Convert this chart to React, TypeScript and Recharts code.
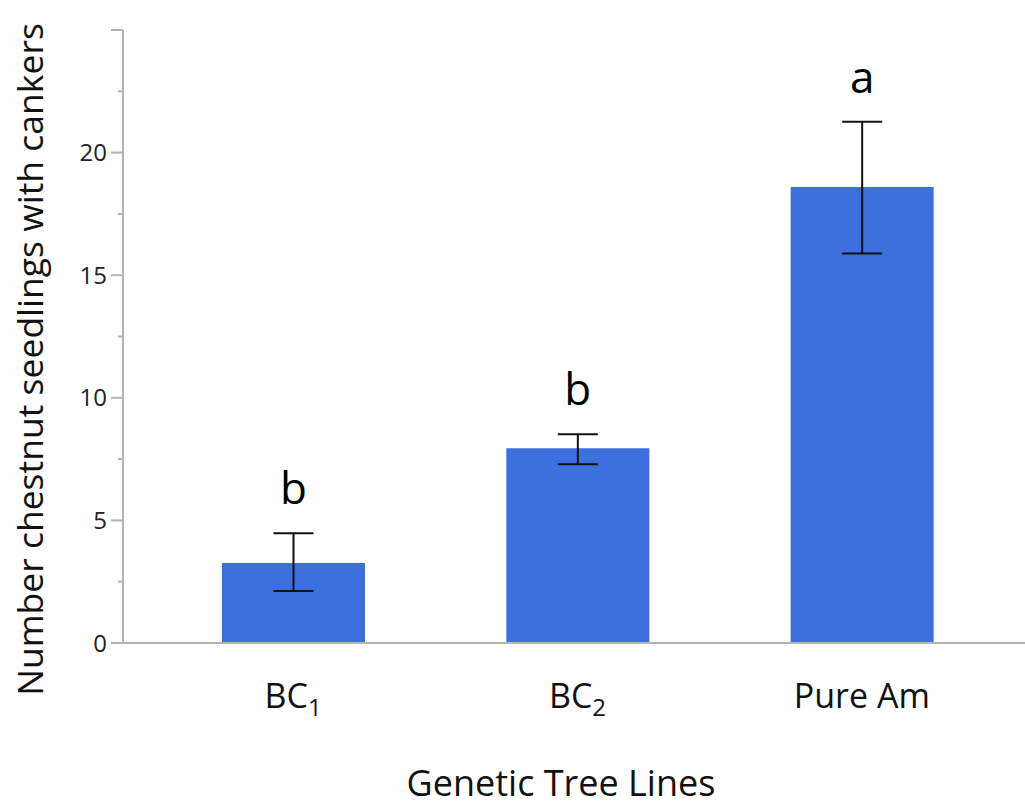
import { BarChart, Bar, XAxis, YAxis, ErrorBar, LabelList, Label } from 'recharts';

// values
const lines = ['BC1', 'BC2', 'Pure Am'];
const cankers = [3.26, 7.94, 18.6];
const lowBar = [2.12, 7.29, 15.89];
const highBar = [4.48, 8.51, 21.26];
const letters = ['b', 'b', 'a'];
const yTicks = [0, 2.5, 5, 7.5, 10, 12.5, 15, 17.5, 20, 22.5, 25];

const data = lines.map((name, i) => ({
  name,
  value: cankers[i],
  err: [cankers[i] - lowBar[i], highBar[i] - cankers[i]],
}));

const FONT = '"Open Sans", "Noto Sans", sans-serif';
const AXIS = '#b3b3b3';

const YTick = (props: any) => {
  const { x, y, payload } = props;
  const v = payload.value;
  const major = v % 5 === 0;
  const len = major ? 12 : 5;
  return (
    <g>
      <line x1={x - len} y1={y} x2={x} y2={y} stroke={AXIS} strokeWidth={2} />
      {major && v < 25 && (
        <text x={x - 16} y={y} dy="0.36em" textAnchor="end" fontSize={24} fill="#222" fontFamily={FONT}>
          {v}
        </text>
      )}
    </g>
  );
};

const XTick = (props: any) => {
  const { x, y, payload } = props;
  const m = /^(BC)(\d)$/.exec(payload.value);
  return (
    <text x={x} y={y + 65} textAnchor="middle" fontSize={34} fill="#111" fontFamily={FONT}>
      {m ? (
        <>
          {m[1]}
          <tspan fontSize={24} dy={8}>{m[2]}</tspan>
        </>
      ) : (
        payload.value
      )}
    </text>
  );
};

// group letter placed above the top of each error bar
const LetterLabel = (props: any) => {
  const { x, y, width, height, index } = props;
  const pxPerUnit = height / cankers[index];
  const errTop = y - (highBar[index] - cankers[index]) * pxPerUnit;
  return (
    <text x={x + width / 2} y={errTop - 29} textAnchor="middle" fontSize={44} fill="#000" fontFamily={FONT}>
      {letters[index]}
    </text>
  );
};

export default function App() {
  return (
    <div style={{ position: 'absolute', left: 0, top: 0 }}>
      <BarChart width={1025} height={808} data={data} margin={{ top: 30, right: 0, bottom: 0, left: 0 }}>
        <XAxis
          dataKey="name"
          height={165}
          padding={{ left: 28, right: 21 }}
          axisLine={{ stroke: AXIS, strokeWidth: 2 }}
          tickLine={false}
          tickSize={0}
          tickMargin={0}
          interval={0}
          tick={<XTick />}
        >
          <Label
            content={(p: any) => {
              const vb = p.viewBox;
              return (
                <text x={vb.x + vb.width / 2 - 13} y={796} textAnchor="middle" fontSize={36} fill="#111" fontFamily={FONT}>
                  Genetic Tree Lines
                </text>
              );
            }}
          />
        </XAxis>
        <YAxis
          width={123}
          domain={[0, 25]}
          ticks={yTicks}
          interval={0}
          axisLine={{ stroke: AXIS, strokeWidth: 2 }}
          tickLine={false}
          tickSize={0}
          tickMargin={0}
          tick={<YTick />}
        >
          <Label
            content={(p: any) => {
              const vb = p.viewBox;
              const cy = vb.y + vb.height / 2 + 23;
              return (
                <text x={43} y={cy} transform={`rotate(-90, 43, ${cy})`} textAnchor="middle" fontSize={35.5} fill="#111" fontFamily={FONT}>
                  Number chestnut seedlings with cankers
                </text>
              );
            }}
          />
        </YAxis>
        <Bar dataKey="value" fill="#3e6fde" barSize={143} isAnimationActive={false}>
          <ErrorBar dataKey="err" width={20} stroke="#111" strokeWidth={2} />
          <LabelList dataKey="value" content={<LetterLabel />} />
        </Bar>
      </BarChart>
    </div>
  );
}
